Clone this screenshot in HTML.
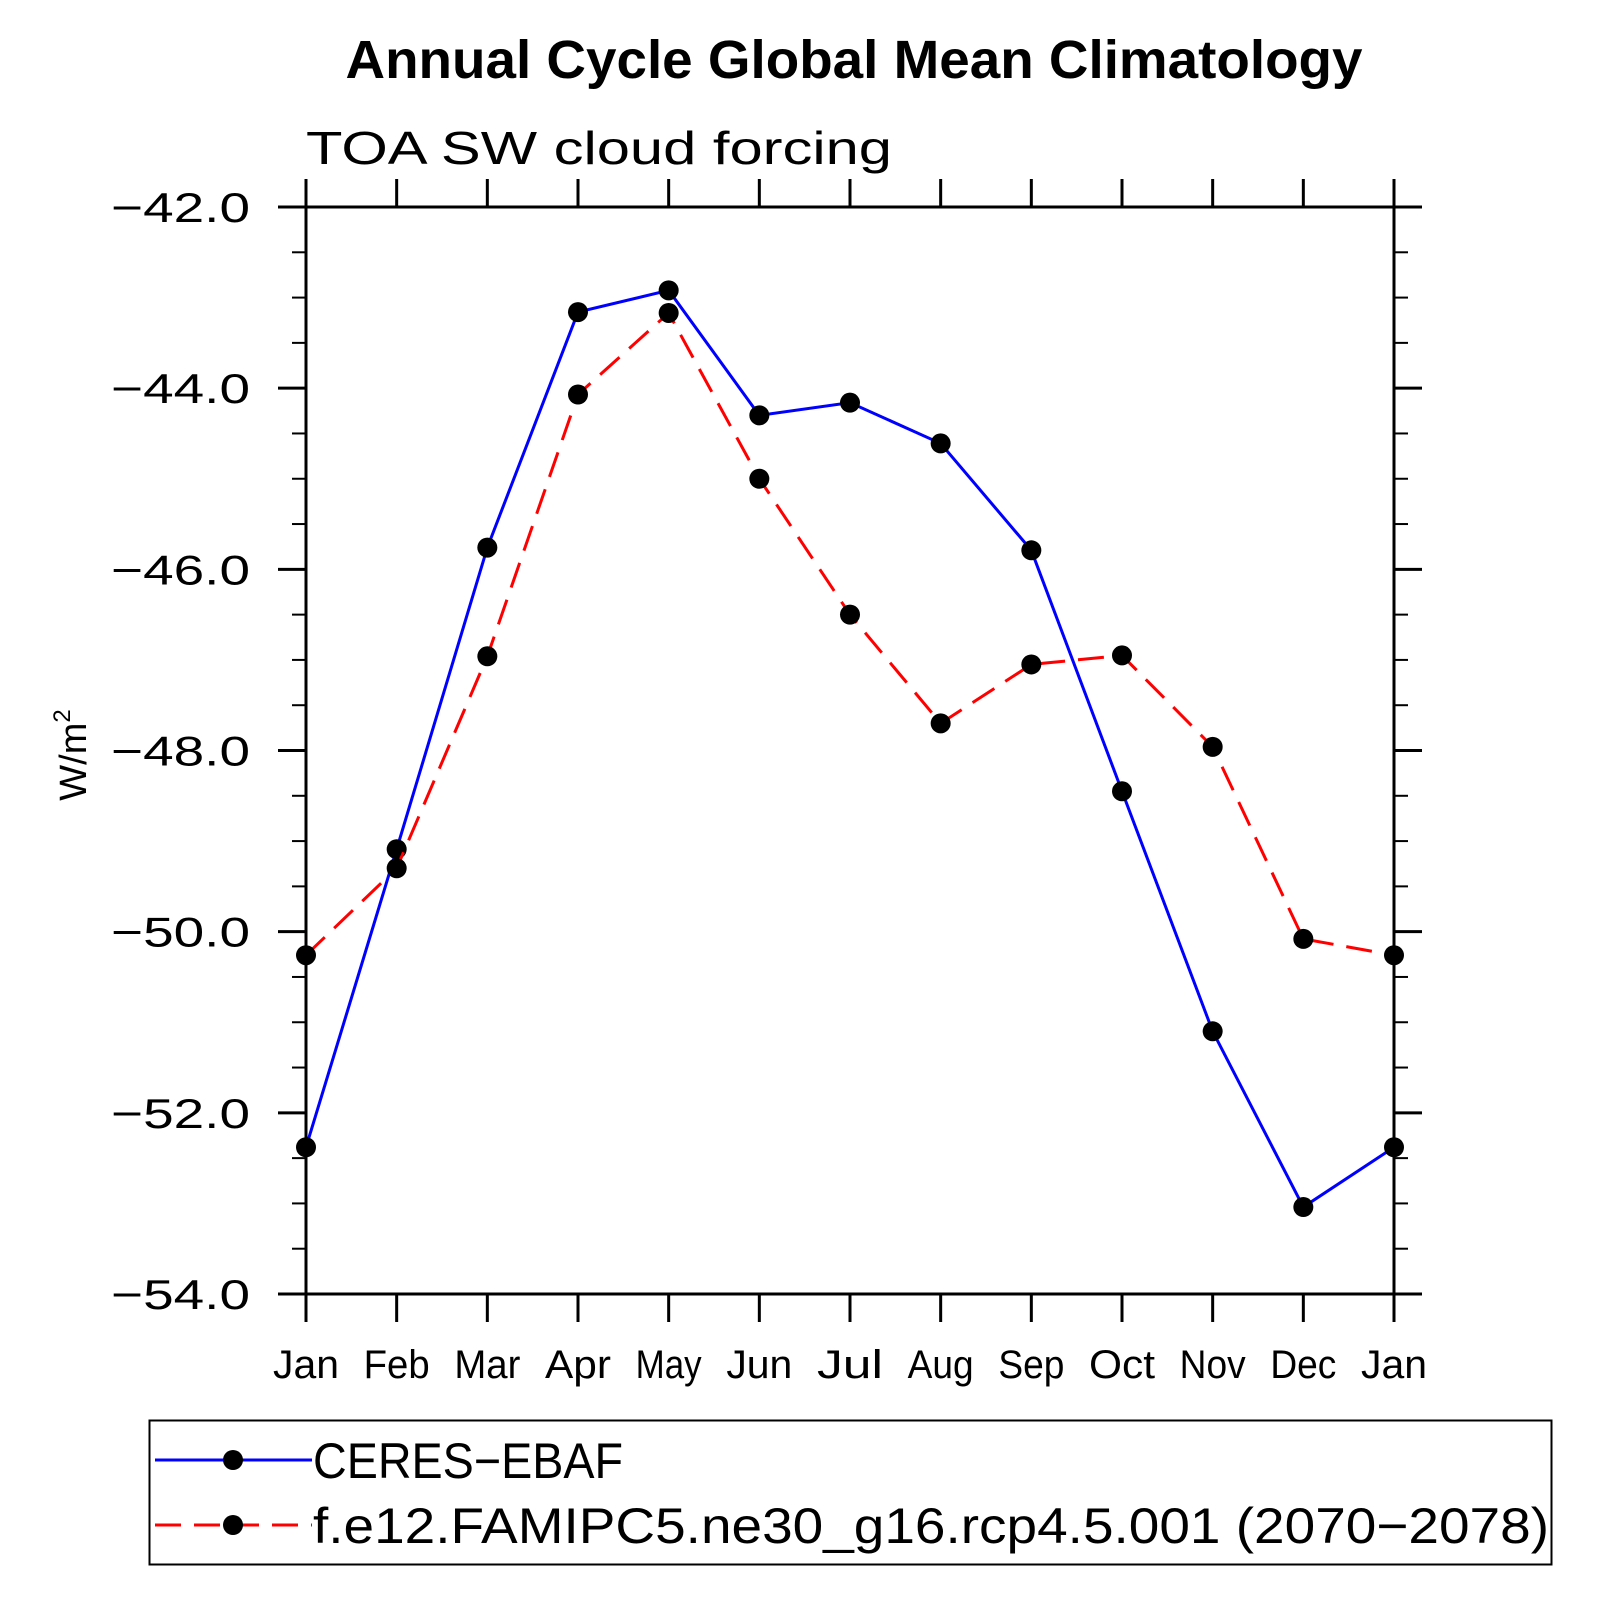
<!DOCTYPE html>
<html><head><meta charset="utf-8"><style>html,body{margin:0;padding:0;background:#fff}svg{display:block}</style></head>
<body>
<svg id="chart" xmlns="http://www.w3.org/2000/svg" width="1602" height="1602" viewBox="0 0 1602 1602" font-family="Liberation Sans, sans-serif">
<text x="854" y="78" text-anchor="middle" font-size="54" font-weight="bold" textLength="1017" lengthAdjust="spacingAndGlyphs">Annual Cycle Global Mean Climatology</text>
<text x="306" y="164" font-size="46" textLength="586" lengthAdjust="spacingAndGlyphs">TOA SW cloud forcing</text>
<text transform="translate(86,755) rotate(-90)" text-anchor="middle" font-size="38">W/m<tspan font-size="24" dy="-16">2</tspan></text>
<g id="axes"></g>
<g id="series"></g>
<g>
<rect x="149.5" y="1420.5" width="1402" height="144" fill="none" stroke="#000" stroke-width="2"/>
<g>
<line x1="155" y1="1460" x2="312" y2="1460" stroke="#0000ff" stroke-width="3"/>
<circle cx="233" cy="1460" r="10" fill="#000"/>
<text x="313" y="1478" font-size="50" textLength="310" lengthAdjust="spacingAndGlyphs">CERES−EBAF</text>
</g>
<g>
<line x1="155" y1="1525" x2="312" y2="1525" stroke="#ff0000" stroke-width="3" stroke-dasharray="26,13"/>
<circle cx="233" cy="1525" r="10" fill="#000"/>
<text x="313" y="1543" font-size="50" textLength="1236" lengthAdjust="spacingAndGlyphs">f.e12.FAMIPC5.ne30_g16.rcp4.5.001 (2070−2078)</text>
</g>
</g>
</svg>
<script>
const months = ["Jan","Feb","Mar","Apr","May","Jun","Jul","Aug","Sep","Oct","Nov","Dec","Jan"];
const ceres = [-52.38,-49.09,-45.76,-43.16,-42.92,-44.30,-44.16,-44.61,-45.79,-48.45,-51.10,-53.04,-52.38];
const model = [-50.26,-49.30,-46.96,-44.07,-43.17,-45.00,-46.50,-47.70,-47.05,-46.95,-47.96,-50.08,-50.26];
const yTicks = [-42,-44,-46,-48,-50,-52,-54];
const yTickLabels = ["−42.0","−44.0","−46.0","−48.0","−50.0","−52.0","−54.0"];

const NS="http://www.w3.org/2000/svg";
const X0=306,X1=1394,Y0=207,Y1=1294,YMAX=-42,YMIN=-54;
const xs=i=>X0+(X1-X0)*i/(months.length-1);
const ys=v=>Y0+(YMAX-v)/(YMAX-YMIN)*(Y1-Y0);
function mk(tag,attrs,parent){const e=document.createElementNS(NS,tag);for(const k in attrs)e.setAttribute(k,attrs[k]);parent.appendChild(e);return e;}
const ax=document.getElementById('axes');
const fr=mk('rect',{x:X0,y:Y0,width:X1-X0,height:Y1-Y0,fill:'none',stroke:'#000','stroke-width':3},ax);


months.forEach((m,i)=>{
  const x=xs(i);
  const t1=mk('line',{x1:x,y1:Y1,x2:x,y2:Y1+28,stroke:'#000','stroke-width':3},ax);
  
  
  const t2=mk('line',{x1:x,y1:Y0,x2:x,y2:Y0-28,stroke:'#000','stroke-width':3},ax);
  
  
  const tl=mk('text',{x:x,y:1378,'text-anchor':'middle','font-size':40,textLength:m.length*22,lengthAdjust:'spacingAndGlyphs'},ax);
  tl.textContent=m;
  
  
});
for(let v=YMAX;v>=YMIN-1e-9;v-=0.5){
  const y=ys(v);const major=Math.abs(v/2-Math.round(v/2))<1e-6;const L=major?28:14;
  const a=mk('line',{x1:X0-L,y1:y,x2:X0,y2:y,stroke:'#000','stroke-width':major?3:2},ax);
  
  
  const b=mk('line',{x1:X1,y1:y,x2:X1+L,y2:y,stroke:'#000','stroke-width':major?3:2},ax);
  
  
}
yTicks.forEach((v,i)=>{
  const t=mk('text',{x:250,y:ys(v)+15,'text-anchor':'end','font-size':42,textLength:139,lengthAdjust:'spacingAndGlyphs'},ax);
  t.textContent=yTickLabels[i];
  
  
});
const sg=document.getElementById('series');
function drawSeries(vals,color,dash,name){
  const p=mk('polyline',{points:vals.map((v,i)=>xs(i)+','+ys(v)).join(' '),fill:'none',stroke:color,'stroke-width':3},sg);
  if(dash)p.setAttribute('stroke-dasharray',dash);
  
  
  vals.forEach((v,i)=>{
    const c=mk('circle',{cx:xs(i),cy:ys(v),r:10,fill:'#000'},sg);
    
    
  });
}
drawSeries(ceres,'#0000ff',null,'ceres');
drawSeries(model,'#ff0000','26,13','model');
</script>
</body></html>
